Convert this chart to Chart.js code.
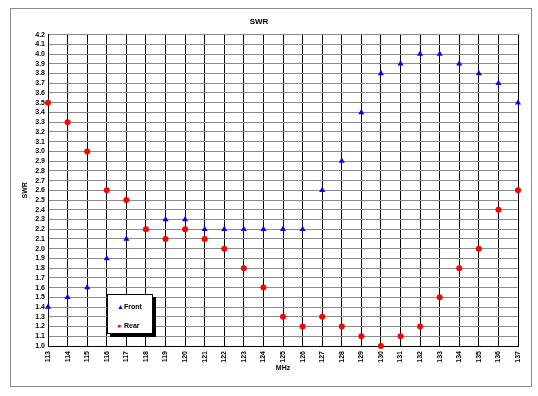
<!DOCTYPE html>
<html>
<head>
<meta charset="utf-8">
<script src="https://cdn.jsdelivr.net/npm/chart.js@4.4.0/dist/chart.umd.min.js"></script>
<style>
    body { margin: 0; background: #fff; }
    #wrap { position: relative; width: 538px; height: 396px; }
    #legend {
        position: absolute; left: 107px; top: 294px; width: 44px; height: 38px;
        border: 1px solid #000; background: #fff; box-shadow: 3px 3px 0 #000;
        font: bold 7px "Liberation Sans", Arial, sans-serif; color: #000;
    }
    #legend div { position: absolute; left: 9px; white-space: nowrap; }
    #legend span { display: inline-block; width: 7px; font-size: 7px; }
</style>
</head>
<body>
<div id="wrap">
    <canvas id="swr-chart" width="538" height="396"></canvas>
    <div id="legend">
        <div style="top:8px"><span style="color:#0000ff">&#9650;</span>Front</div>
        <div style="top:27px"><span style="color:#ff0000">&#9679;</span>Rear</div>
    </div>
</div>
<script>
// SWR chart - front vs rear
const freqs = [113, 114, 115, 116, 117, 118, 119, 120, 121, 122, 123, 124, 125,
               126, 127, 128, 129, 130, 131, 132, 133, 134, 135, 136, 137];
const frontSwr = [1.4, 1.5, 1.6, 1.9, 2.1, 2.2, 2.3, 2.3, 2.2, 2.2, 2.2, 2.2, 2.2,
                  2.2, 2.6, 2.9, 3.4, 3.8, 3.9, 4.0, 4.0, 3.9, 3.8, 3.7, 3.5];
const rearSwr = [3.5, 3.3, 3.0, 2.6, 2.5, 2.2, 2.1, 2.2, 2.1, 2.0, 1.8, 1.6, 1.3,
                 1.2, 1.3, 1.2, 1.1, 1.0, 1.1, 1.2, 1.5, 1.8, 2.0, 2.4, 2.6];
const yMin = 1.0, yMax = 4.2;

const tickFont = { family: '"Liberation Sans", Arial, sans-serif', size: 7, weight: 'bold' };

const framePlugin = {
    id: 'frame',
    beforeDraw(chart) {
        const ctx = chart.ctx;
        ctx.save();
        ctx.fillStyle = '#fff';
        ctx.fillRect(0, 0, chart.width, chart.height);
        ctx.strokeStyle = '#8c8c8c';
        ctx.lineWidth = 1;
        ctx.strokeRect(10.5, 8.5, 521, 378);
        ctx.restore();
    }
};

const toPoints = (vals) => vals.map((v, i) => ({ x: freqs[i], y: v }));

new Chart(document.getElementById('swr-chart').getContext('2d'), {
    type: 'scatter',
    data: {
        datasets: [
            {
                label: 'Front',
                data: toPoints(frontSwr),
                pointStyle: 'triangle',
                pointRadius: 3.5,
                backgroundColor: '#0000ff',
                borderColor: '#0000ff',
                borderWidth: 0,
                clip: false,
                order: 1
            },
            {
                label: 'Rear',
                data: toPoints(rearSwr),
                pointStyle: 'circle',
                pointRadius: 3,
                backgroundColor: '#ff0000',
                borderColor: '#ff0000',
                borderWidth: 0,
                clip: false,
                order: 0
            }
        ]
    },
    options: {
        responsive: false,
        animation: false,
        layout: { padding: { left: 0, right: 20, top: 0, bottom: 10 } },
        plugins: {
            legend: { display: false },
            tooltip: { enabled: false },
            title: {
                display: true,
                text: 'SWR',
                color: '#000',
                font: { family: tickFont.family, size: 8, weight: 'bold' },
                padding: { top: 17, bottom: 8 }
            }
        },
        scales: {
            x: {
                type: 'linear',
                min: freqs[0],
                max: freqs[freqs.length - 1],
                afterFit(scale) { scale.height = 40; },
                ticks: {
                    stepSize: 1,
                    autoSkip: false,
                    minRotation: 90,
                    maxRotation: 90,
                    padding: 5,
                    color: '#000',
                    font: tickFont
                },
                grid: { color: '#000', lineWidth: 1, drawTicks: false },
                border: { color: '#000', width: 1 },
                title: {
                    display: true,
                    text: 'MHz',
                    color: '#000',
                    font: tickFont,
                    padding: { top: 0, bottom: 14 }
                }
            },
            y: {
                min: yMin,
                max: yMax,
                afterFit(scale) { scale.width = 48; },
                ticks: {
                    stepSize: 0.1,
                    autoSkip: false,
                    padding: 3,
                    color: '#000',
                    font: tickFont,
                    callback: (v) => v.toFixed(1)
                },
                grid: { color: '#8c8c8c', lineWidth: 1, drawTicks: false },
                border: { color: '#000', width: 1 },
                title: {
                    display: true,
                    text: 'SWR',
                    color: '#000',
                    font: tickFont,
                    padding: { top: 21, bottom: 0 }
                }
            }
        }
    },
    plugins: [framePlugin]
});
</script>
</body>
</html>
